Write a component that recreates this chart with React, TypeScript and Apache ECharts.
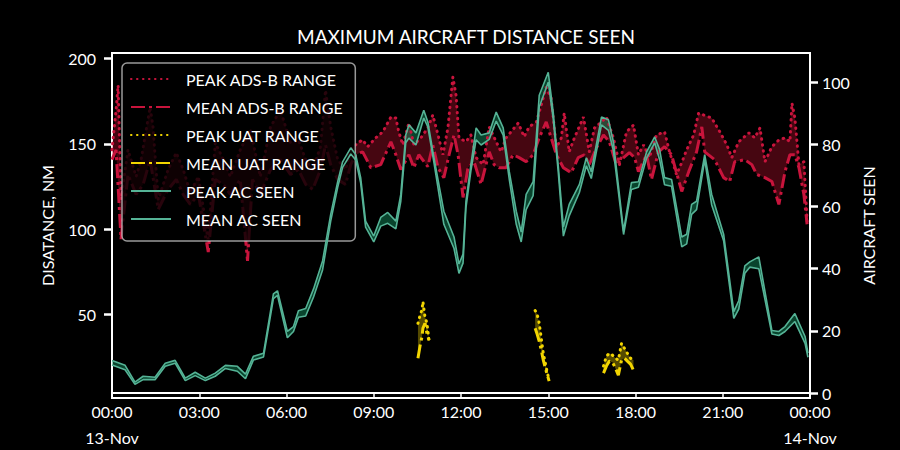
import React, { useEffect, useRef } from 'react';
import * as echarts from 'echarts';

// ---------- data (hours since 00:00 13-Nov) ----------
const xTickLabels = ['00:00\n13-Nov', '03:00', '06:00', '09:00', '12:00', '15:00', '18:00', '21:00', '00:00\n14-Nov'];
const leftTicks = [50, 100, 150, 200];
const rightTicks = [0, 20, 40, 60, 80, 100];

const adsbPeakHours = [0, 0.14, 0.21, 0.31, 0.55, 0.83, 1.0, 1.31, 1.41, 1.59, 1.93, 2.21, 2.45, 2.69, 2.97, 3.31, 3.55, 3.83, 4.07, 4.41, 4.76, 5.10, 5.45, 5.79, 6.14, 6.41, 6.66, 6.90, 7.17, 7.34, 7.52, 7.76, 8.03, 8.21, 8.45, 8.62, 8.79, 9.07, 9.31, 9.59, 9.76, 9.86, 10.0, 10.21, 10.38, 10.62, 10.86, 11.03, 11.21, 11.38, 11.55, 11.72, 11.83, 11.93, 12.17, 12.34, 12.52, 12.76, 12.97, 13.21, 13.38, 13.55, 13.97, 14.17, 14.34, 14.59, 14.76, 14.93, 15.10, 15.28, 15.45, 15.55, 15.72, 15.90, 16.21, 16.41, 16.59, 16.83, 17.0, 17.24, 17.45, 17.69, 17.93, 18.10, 18.28, 18.48, 18.72, 19.0, 19.17, 19.41, 19.59, 19.76, 20.0, 20.17, 20.34, 20.62, 20.90, 21.14, 21.31, 21.55, 21.90, 22.10, 22.28, 22.45, 22.69, 22.93, 23.14, 23.31, 23.38, 23.48, 23.62, 23.79, 23.90];
const adsbPeakNm = [146.5, 169.8, 184.3, 117.4, 146.5, 130.8, 140.7, 171.5, 159.9, 117.4, 134.9, 144.8, 134.9, 121.5, 130.8, 94.2, 150.6, 140.7, 130.8, 146.5, 158.1, 130.8, 159.9, 169.8, 150.6, 152.3, 140.7, 134.9, 148.3, 181.4, 159.9, 140.7, 134.9, 146.5, 150.6, 152.3, 148.3, 153.5, 157, 165.7, 165.1, 157, 149.4, 162.2, 149.4, 153.5, 159.3, 166.9, 155.2, 143.6, 159.3, 189, 178.5, 153.5, 151.2, 155.2, 141.9, 137.8, 159.9, 151.2, 145.3, 153.5, 162.2, 154.1, 159.9, 162.8, 172.7, 183.1, 176.7, 147.7, 153.5, 168, 145.3, 153.5, 165.7, 145.3, 159.3, 162.8, 165.7, 153.5, 137.8, 157, 161, 143.6, 149.4, 141.9, 155.2, 157, 145.3, 132, 139, 146.5, 155.2, 168, 166.9, 165.1, 157, 149.4, 141.9, 151.2, 156.4, 153.5, 159.3, 139.5, 148.3, 152.3, 153.5, 151.2, 173.8, 165.1, 137.8, 139.5, 104.7];

const adsbMeanHours = [0, 0.14, 0.31, 0.55, 0.83, 1.07, 1.31, 1.59, 1.93, 2.21, 2.45, 2.69, 2.97, 3.31, 3.55, 3.83, 4.07, 4.41, 4.66, 4.83, 5.10, 5.45, 5.79, 6.14, 6.41, 6.66, 6.90, 7.17, 7.34, 7.52, 7.76, 8.03, 8.21, 8.38, 8.62, 8.90, 9.24, 9.59, 9.76, 9.93, 10.21, 10.38, 10.55, 10.86, 11.03, 11.21, 11.41, 11.59, 11.76, 11.90, 12.07, 12.24, 12.45, 12.69, 12.86, 12.97, 13.14, 13.31, 13.55, 13.79, 14.0, 14.24, 14.48, 14.69, 14.93, 15.10, 15.28, 15.52, 15.79, 16.03, 16.24, 16.41, 16.66, 16.90, 17.10, 17.34, 17.59, 17.79, 17.97, 18.10, 18.38, 18.55, 18.79, 19.0, 19.24, 19.59, 19.83, 20.10, 20.28, 20.38, 20.72, 21.03, 21.24, 21.41, 21.76, 22.0, 22.17, 22.45, 22.69, 22.93, 23.14, 23.31, 23.48, 23.62, 23.79, 23.90];
const adsbMeanNm = [140.7, 146.5, 94.2, 132, 120.3, 126.2, 140.7, 111.6, 123.3, 129.1, 120.3, 114.5, 120.3, 86.6, 129.1, 126.2, 120.3, 129.1, 81.4, 129.1, 120.3, 134.9, 140.7, 132, 134.9, 126.2, 123.3, 134.9, 149.4, 137.8, 129.1, 126.2, 137.8, 143.6, 145.3, 136, 137.8, 151.2, 143.6, 134.9, 143.6, 136, 143.6, 136.6, 149.4, 136, 130.2, 143.6, 155.2, 143.6, 118.6, 136, 139.5, 126.2, 137.8, 145.3, 137.8, 136, 136, 143.6, 141.9, 139.5, 143.6, 153.5, 162.8, 153.5, 143.6, 136, 133.1, 141.9, 143.6, 137.8, 147.7, 155.2, 151.2, 137.8, 141.9, 144.8, 141.9, 133.7, 143.6, 129.1, 145.3, 148.3, 143.6, 122.1, 133.7, 145.3, 159.9, 145.3, 140.7, 130.2, 127.9, 139.5, 140.7, 137.8, 132, 130.2, 127.9, 114.5, 133.7, 143.6, 143.6, 136, 120.3, 102.9];

const uat1Hours = [10.52, 10.59, 10.66, 10.69, 10.76, 10.83, 10.90];
const uat1Peak = [44.8, 49.4, 52.9, 57.6, 48.8, 44.8, 34.9];
const uat1Mean = [24.4, 31.4, 37.2, 41.9, 44.8, 39.0, 34.9];
const uat2Hours = [14.55, 14.62, 14.69, 14.76, 14.83, 14.90, 14.97, 15.03];
const uat2Peak = [52.3, 50.0, 44.8, 36.0, 27.3, 21.5, 15.7, 11.6];
const uat2Mean = [41.9, 38.4, 34.3, 29.1, 23.3, 18.6, 14.5, 11.0];
const uat3Hours = [16.90, 17.00, 17.10, 17.21, 17.31, 17.41, 17.52, 17.62, 17.72, 17.83, 17.93];
const uat3Peak = [19.8, 25.6, 27.3, 26.2, 24.4, 23.3, 33.1, 30.2, 27.3, 24.4, 23.3];
const uat3Mean = [15.7, 19.8, 22.7, 22.1, 18.6, 14.5, 23.3, 24.4, 22.7, 20.9, 17.4];

const acHours = [0, 0.45, 0.79, 1.07, 1.48, 1.83, 2.17, 2.52, 2.86, 3.21, 3.55, 3.90, 4.31, 4.59, 4.86, 5.21, 5.55, 5.69, 6.03, 6.24, 6.41, 6.66, 6.93, 7.24, 7.52, 7.76, 7.93, 8.21, 8.38, 8.55, 8.72, 9.0, 9.24, 9.48, 9.76, 9.93, 10.10, 10.21, 10.45, 10.72, 10.86, 11.07, 11.41, 11.76, 11.93, 12.07, 12.17, 12.34, 12.52, 12.69, 12.97, 13.21, 13.45, 13.66, 13.90, 14.07, 14.24, 14.48, 14.69, 15.0, 15.17, 15.34, 15.52, 15.72, 16.07, 16.31, 16.48, 16.83, 17.07, 17.24, 17.59, 17.86, 18.10, 18.38, 18.66, 18.83, 19.0, 19.24, 19.59, 19.76, 19.93, 20.10, 20.38, 20.62, 21.03, 21.38, 21.55, 21.76, 21.93, 22.24, 22.69, 22.93, 23.14, 23.48, 23.83, 23.93];
const acPeak = [10.5, 8.9, 3.5, 5.4, 5.1, 9.6, 10.5, 4.8, 6.7, 4.8, 6.4, 8.9, 8.6, 6.1, 11.8, 12.8, 31.9, 32.9, 19.8, 21.4, 26.5, 27.2, 33.5, 42.5, 57.5, 68.0, 74.4, 78.9, 76.7, 69.3, 55.3, 50.5, 56.5, 58.1, 55.3, 63.9, 83.0, 86.3, 83.7, 91.0, 87.2, 75.7, 58.5, 50.2, 41.5, 44.7, 61.7, 73.5, 85.3, 83.0, 83.7, 90.4, 85.3, 71.2, 58.5, 51.8, 63.9, 68.0, 95.8, 103.2, 90.4, 73.5, 53.4, 60.7, 67.1, 75.7, 71.2, 88.8, 87.9, 80.8, 52.1, 67.7, 68.0, 77.6, 82.4, 78.3, 69.3, 68.7, 50.2, 51.1, 60.7, 61.7, 76.7, 63.9, 51.1, 26.2, 29.7, 40.9, 42.2, 43.8, 20.1, 19.8, 21.4, 25.6, 18.2, 12.8];
const acMean = [9.0, 7.5, 2.8, 4.3, 4.3, 8.6, 9.6, 4.0, 5.6, 4.0, 5.4, 7.9, 7.0, 4.6, 10.6, 11.6, 30.4, 31.4, 17.8, 19.8, 24.4, 24.8, 30.9, 39.6, 55.3, 66.2, 72.6, 76.9, 75.0, 67.6, 53.4, 48.6, 53.7, 54.6, 52.8, 61.7, 80.5, 82.0, 79.8, 88.5, 85.6, 74.1, 54.3, 46.5, 38.5, 41.8, 59.6, 71.5, 81.5, 79.8, 81.6, 87.5, 83.0, 68.7, 54.3, 48.6, 59.0, 63.5, 92.0, 100.0, 88.2, 71.5, 50.5, 57.0, 64.5, 73.1, 69.0, 86.3, 84.5, 78.0, 51.0, 65.5, 66.2, 75.5, 80.5, 75.0, 67.0, 66.5, 47.0, 48.0, 57.5, 59.0, 75.0, 60.5, 49.0, 24.0, 27.0, 38.5, 40.5, 40.0, 19.0, 18.5, 19.8, 23.0, 16.0, 11.5];

// ---------- helpers ----------
const FONT = 'Lato, "DejaVu Sans", sans-serif';
const CRIMSON = '#c8143c';
const YELLOW = '#f2d500';
const TEAL = '#55b396';

const zip = (xs: number[], ys: number[]) => xs.map((x, i) => [x, ys[i]]);
const withGaps = (parts: number[][][]) => {
  const out: any[] = [];
  parts.forEach((p, i) => {
    if (i) out.push([p[0][0], null]);
    out.push(...p);
  });
  return out;
};

const band = (pairs: number[][][][], fill: string, yAxisIndex: number, z: number) => ({
  type: 'custom',
  yAxisIndex,
  z,
  silent: true,
  data: [[0, 0]],
  renderItem: (_p: any, api: any) => ({
    type: 'group',
    children: pairs.map(([up, lo]) => ({
      type: 'polygon',
      shape: {
        points: up.map((p) => api.coord(p)).concat(lo.slice().reverse().map((p) => api.coord(p))),
      },
      style: { fill },
    })),
  }),
});

const lineSeries = (name: string, data: any[], color: string, type: any, width: number, yAxisIndex: number, z: number, cap = 'butt') => ({
  type: 'line',
  name,
  data,
  yAxisIndex,
  z,
  symbol: 'none',
  showSymbol: false,
  connectNulls: false,
  silent: true,
  itemStyle: { color },
  lineStyle: { color, width, type, cap },
});

export default function App() {
  const ref = useRef<HTMLDivElement>(null);

  useEffect(() => {
    if (!ref.current) return;
    const chart = echarts.init(ref.current, undefined, { renderer: 'svg' });

    const adsbPeak = zip(adsbPeakHours, adsbPeakNm);
    const adsbMean = zip(adsbMeanHours, adsbMeanNm);
    const u1p = zip(uat1Hours, uat1Peak), u1m = zip(uat1Hours, uat1Mean);
    const u2p = zip(uat2Hours, uat2Peak), u2m = zip(uat2Hours, uat2Mean);
    const u3p = zip(uat3Hours, uat3Peak), u3m = zip(uat3Hours, uat3Mean);
    const acP = zip(acHours, acPeak);
    const acM = zip(acHours, acMean);

    const white = { color: '#fff', width: 2 };
    const tickFont = { color: '#fff', fontSize: 16, fontFamily: FONT };

    chart.setOption({
      animation: false,
      backgroundColor: '#000',
      title: {
        text: 'MAXIMUM AIRCRAFT DISTANCE SEEN',
        left: 461,
        top: 22,
        textAlign: 'center',
        textStyle: { color: '#fff', fontSize: 19, fontWeight: 'normal', fontFamily: FONT },
      },
      grid: { left: 112, right: 90, top: 53, bottom: 50, show: true, borderColor: '#fff', borderWidth: 2, backgroundColor: 'transparent' },
      legend: {
        data: ['PEAK ADS-B RANGE', 'MEAN ADS-B RANGE', 'PEAK UAT RANGE', 'MEAN UAT RANGE', 'PEAK AC SEEN', 'MEAN AC SEEN'],
        orient: 'vertical',
        left: 122,
        top: 63,
        itemWidth: 40,
        itemHeight: 14,
        itemGap: 8,
        padding: [6, 12, 12, 8],
        backgroundColor: 'rgba(0,0,0,0.8)',
        borderColor: 'rgba(204,204,204,0.75)',
        borderWidth: 1.5,
        borderRadius: 5,
        itemStyle: { opacity: 0 },
        textStyle: { color: '#fff', fontSize: 16, fontFamily: FONT, lineHeight: 20, padding: [0, 0, 0, 10] },
      },
      xAxis: {
        type: 'value',
        min: 0,
        max: 24,
        interval: 3,
        axisLine: { show: true, lineStyle: white },
        axisTick: { show: true, length: 4, lineStyle: { color: '#fff', width: 1.5 } },
        axisLabel: {
          ...tickFont,
          margin: 0,
          lineHeight: 26,
          showMinLabel: true,
          showMaxLabel: true,
          formatter: (v: number) => xTickLabels[Math.round(v / 3)] ?? '',
        },
        splitLine: { show: false },
      },
      yAxis: [
        {
          type: 'value',
          position: 'left',
          min: 1.1,
          max: 203.2,
          name: 'DISATANCE, NM',
          nameLocation: 'middle',
          nameRotate: 90,
          nameGap: 57,
          nameTextStyle: { color: '#fff', fontSize: 16, fontFamily: FONT },
          axisLine: { show: true, lineStyle: white },
          axisTick: { show: true, length: 8, lineStyle: { color: '#fff', width: 2.5 }, customValues: leftTicks },
          axisLabel: { ...tickFont, margin: 16, customValues: leftTicks },
          splitLine: { show: false },
        },
        {
          type: 'value',
          position: 'right',
          min: -1.6,
          max: 109.4,
          name: 'AIRCRAFT SEEN',
          nameLocation: 'middle',
          nameRotate: 90,
          nameGap: 45,
          nameTextStyle: { color: '#fff', fontSize: 16, fontFamily: FONT },
          axisLine: { show: true, lineStyle: white },
          axisTick: { show: true, length: 8, lineStyle: { color: '#fff', width: 2.5 }, customValues: rightTicks },
          axisLabel: { ...tickFont, margin: 12, customValues: rightTicks },
          splitLine: { show: false },
        },
      ],
      series: [
        band([[adsbPeak, adsbMean]], 'rgba(200,16,50,0.35)', 0, 1),
        band([[acP, acM]], 'rgba(20,150,100,0.45)', 1, 2),
        lineSeries('PEAK ADS-B RANGE', adsbPeak, CRIMSON, [0.5, 5.5], 3, 0, 3, 'round'),
        lineSeries('MEAN ADS-B RANGE', adsbMean, CRIMSON, [14, 4, 3, 4], 3, 0, 3),
        lineSeries('PEAK UAT RANGE', withGaps([u1p, u2p, u3p]), YELLOW, [0.5, 5.5], 3, 0, 6, 'round'),
        lineSeries('MEAN UAT RANGE', withGaps([u1m, u2m, u3m]), YELLOW, [14, 4, 3, 4], 3, 0, 6),
        lineSeries('PEAK AC SEEN', acP, TEAL, 'solid', 1.6, 1, 4),
        lineSeries('MEAN AC SEEN', acM, TEAL, 'solid', 1.6, 1, 4),
        band([[u1p, u1m], [u2p, u2m], [u3p, u3m]], 'rgba(242,213,0,0.35)', 0, 5),
      ],
    });

    return () => chart.dispose();
  }, []);

  return (
    <div
      ref={ref}
      style={{ position: 'fixed', left: 0, top: 0, width: 900, height: 450, background: '#000' }}
    />
  );
}
